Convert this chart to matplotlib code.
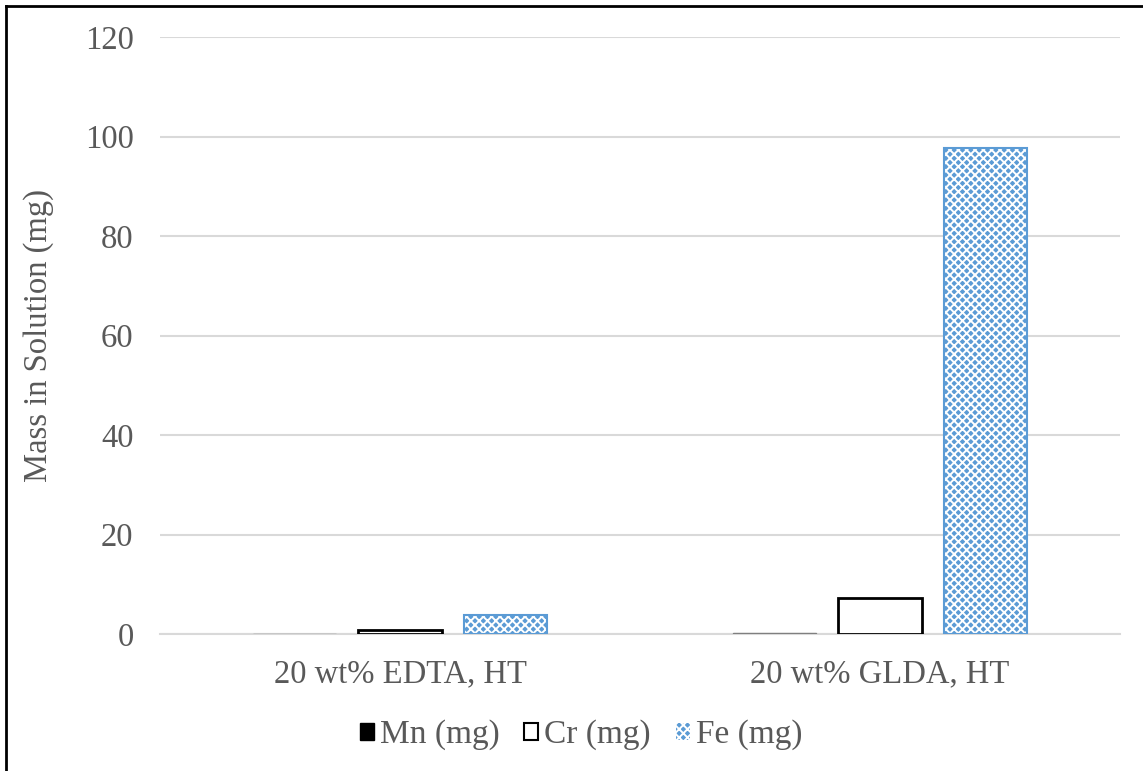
import numpy as np
import matplotlib
matplotlib.use("Agg")
from matplotlib import pyplot as plt
from matplotlib.lines import Line2D

categorias = ["20 wt% EDTA, HT", "20 wt% GLDA, HT"]
mn = [0.1, 0.3]
cr = [0.8, 7.2]
fe = [3.8, 97.7]
series = ["Mn (mg)", "Cr (mg)", "Fe (mg)"]
yticks = [0, 20, 40, 60, 80, 100, 120]

cinza = "#595959"
azul = "#5B9BD5"

plt.rcParams["font.family"] = ["Liberation Serif", "DejaVu Serif"]
plt.rcParams["hatch.linewidth"] = 1.4

fig = plt.figure(figsize=(11.43, 7.71), dpi=100)
ax = fig.add_axes([160 / 1143, 1 - 634 / 771, 960 / 1143, 597 / 771])

x = np.arange(len(categorias))
w = 0.173
passo = 0.22

ax.bar(x - passo, mn, w, color="black", edgecolor="#7f7f7f", linewidth=1, zorder=3)
ax.bar(x, cr, w, color="white", edgecolor="black", linewidth=2, zorder=3)
ax.bar(x + passo, fe, w, color=azul, edgecolor="white", hatch="xxxx", linewidth=0, zorder=3)
ax.bar(x + passo, fe, w, color="none", edgecolor=azul, linewidth=1.5, zorder=4)

ax.set_xlim(-0.5, 1.5)
ax.set_ylim(0, 120)
ax.set_yticks(yticks)
ax.set_xticks(x)
ax.set_xticklabels(categorias)
ax.tick_params(axis="both", length=0, labelsize=23.5, labelcolor=cinza)
ax.tick_params(axis="y", pad=19)
ax.tick_params(axis="x", pad=18)
ax.yaxis.grid(True, color="#d9d9d9", linewidth=1.5, zorder=0)
ax.set_axisbelow(True)
for s in ["top", "right", "left"]:
    ax.spines[s].set_visible(False)
ax.spines["bottom"].set_color("#d9d9d9")
ax.spines["bottom"].set_linewidth(1.5)
ax.set_ylabel("Mass in Solution (mg)", fontsize=23.5, color=cinza, labelpad=22)

handles = [
    plt.Rectangle((0, 0), 1, 1, facecolor="black", edgecolor="black"),
    plt.Rectangle((0, 0), 1, 1, facecolor="white", edgecolor="black", linewidth=1.5),
    plt.Rectangle((0, 0), 1, 1, facecolor=azul, edgecolor="white", hatch="xxxx", linewidth=0),
]
leg = fig.legend(handles, series, loc="center", bbox_to_anchor=(581 / 1143, 1 - 735 / 771),
                 ncol=3, frameon=False, fontsize=24, handlelength=0.42, handleheight=0.42,
                 handletextpad=0.18, columnspacing=0.75)
for t in leg.get_texts():
    t.set_color(cinza)

# moldura
fig.add_artist(Line2D([6 / 1143, 6 / 1143], [0, 1 - 6 / 771], transform=fig.transFigure, color="black", linewidth=2))
fig.add_artist(Line2D([6 / 1143, 1], [1 - 6 / 771, 1 - 6 / 771], transform=fig.transFigure, color="black", linewidth=2))

plt.savefig("out.png", dpi=100)
